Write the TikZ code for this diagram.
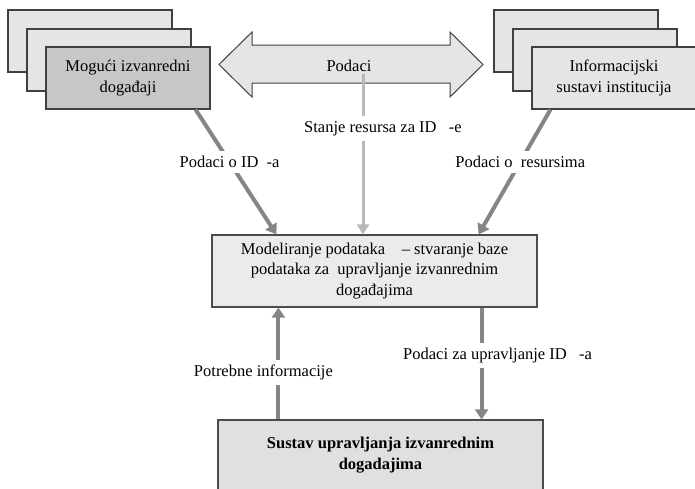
\documentclass[tikz,border=0pt]{standalone}
\usepackage{fontspec}
\setmainfont{Liberation Serif}
\usetikzlibrary{arrows.meta, positioning, calc}

\begin{document}
\begin{tikzpicture}[
    x=1pt, y=-1pt,
    font=\fontsize{16.5}{20.5}\selectfont,
    darr/.style={-{Triangle[length=10pt, width=13pt]}, line width=4pt, draw=black!48},
    larr/.style={-{Triangle[length=10pt, width=12pt]}, line width=3pt, draw=black!28},
    stackbox/.style={rectangle, draw=black!75, line width=1.2pt, fill=black!10, minimum width=164pt, minimum height=62pt},
    frontbox/.style={stackbox, align=center, inner sep=0pt},
    mainbox/.style={rectangle, draw=black!70, line width=1.2pt, fill=black!8, minimum width=325pt, align=center},
    lbl/.style={fill=white, inner sep=5pt},
]
\useasboundingbox (0,0) rectangle (695,488);

% ============ Sources ============
\node[stackbox] (ev1) at (90,41) {};
\node[stackbox] (ev2) at ($(ev1)+(19,19)$) {};
\node[frontbox, fill=black!22] (ev3) at ($(ev2)+(19,18)$) {Mogući izvanredni\\događaji};

\node[stackbox] (inf1) at (576,41) {};
\node[stackbox] (inf2) at ($(inf1)+(19,19)$) {};
\node[frontbox] (inf3) at ($(inf2)+(19,18)$) {Informacijski\\sustavi institucija};

% Data exchange (double arrow)
\draw[draw=black!75, line width=1pt, fill=black!10]
    (219,64.5) -- (252,32) -- (252,45) -- (450,45) -- (450,32) -- (483,64.5)
    -- (450,97) -- (450,83) -- (252,83) -- (252,97) -- cycle;
\node[inner sep=2pt] (podaci) at (349,66) {Podaci};

% ============ Database and management system ============
\node[mainbox, minimum height=72pt] (model) at (374.5,271)
    {Modeliranje podataka \ \ \ -- stvaranje baze\\podataka za \ upravljanje izvanrednim\\događajima};
\node[mainbox, fill=black!12, minimum height=70pt, font=\fontsize{16.5}{21}\selectfont\bfseries] (sustav) at (380.5,455)
    {Sustav upravljanja izvanrednim\\dogadajima};

% Inputs to the model
\draw[darr] ([xshift=-15pt]ev3.south east) -- node[lbl, pos=0.42] {Podaci o ID \ -a} ([xshift=65pt]model.north west);
\draw[darr] ([xshift=19pt]inf3.south west) -- node[lbl, pos=0.42] {Podaci o \ resursima} ([xshift=-59pt]model.north east);
\draw[larr] ([xshift=14pt]podaci.south) -- node[lbl, pos=0.34, xshift=20pt] {Stanje resursa za ID \ \ -e} ([xshift=-11.5pt]model.north);

% Model <-> management system
\draw[darr] ([xshift=61pt]sustav.north west) -- node[lbl, pos=0.42, xshift=-15pt] {Potrebne informacije} ([xshift=67pt]model.south west);
\draw[darr] ([xshift=-56pt]model.south east) -- node[lbl, pos=0.43, xshift=16pt] {Podaci za upravljanje ID \ \ -a} ([xshift=-62pt]sustav.north east);

\end{tikzpicture}
\end{document}
